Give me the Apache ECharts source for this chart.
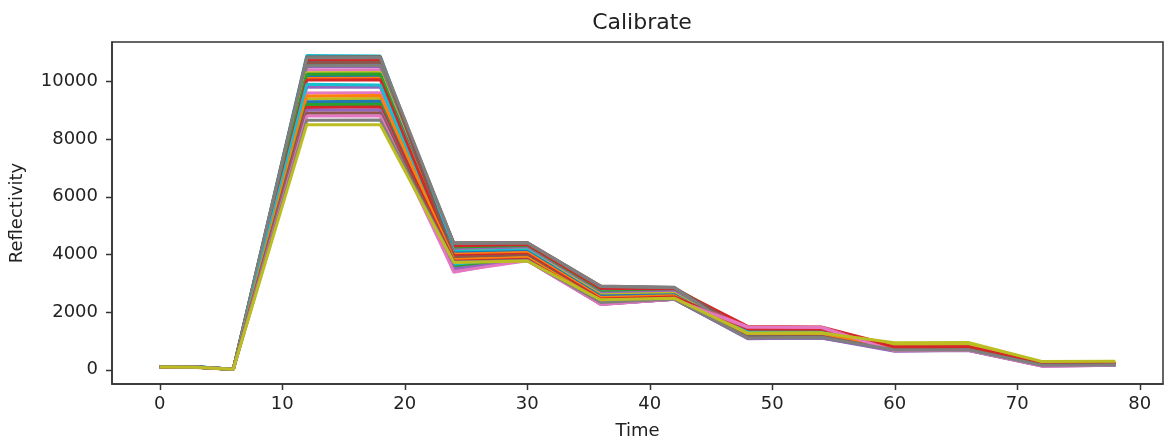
<!DOCTYPE html>
<html>
<head>
<meta charset="utf-8">
<script src="https://cdn.jsdelivr.net/npm/echarts@6/dist/echarts.min.js"></script>
<style>
  html, body { margin: 0; padding: 0; background: #fff; }
  #chart { width: 1164px; height: 448px; }
</style>
</head>
<body>
<div id="chart"></div>
<script>
// sample times (x axis)
const times = [0, 3, 6, 12, 18, 24, 30, 36, 42, 48, 54, 60, 66, 72, 78]

// one row per calibration curve
const reflectivity = [
  [100, 90, 10, 10700, 10720, 4250, 4300, 2800, 2780, 1400, 1380, 800, 810, 220, 230],
  [90, 80, 5, 10800, 10810, 4350, 4380, 2850, 2820, 1450, 1430, 780, 790, 200, 210],
  [110, 95, 15, 10600, 10620, 4200, 4250, 2700, 2720, 1300, 1320, 760, 770, 190, 200],
  [95, 85, 8, 10750, 10760, 4300, 4340, 2820, 2800, 1500, 1480, 820, 830, 210, 220],
  [105, 80, 12, 10500, 10520, 4150, 4200, 2650, 2700, 1250, 1270, 720, 730, 180, 190],
  [100, 90, 6, 10650, 10670, 4400, 4410, 2900, 2850, 1350, 1360, 750, 760, 170, 180],
  [85, 70, 20, 10400, 10410, 3450, 3900, 2300, 2500, 1480, 1470, 680, 700, 150, 160],
  [100, 90, 10, 10550, 10560, 4380, 4400, 2880, 2840, 1150, 1170, 700, 710, 160, 170],
  [90, 75, 15, 10300, 10310, 4100, 4150, 2600, 2650, 1200, 1220, 850, 860, 240, 250],
  [100, 95, 5, 10900, 10880, 4100, 4150, 2500, 2550, 1300, 1300, 780, 790, 200, 210],
  [95, 85, 10, 10200, 10210, 4050, 4100, 2550, 2600, 1180, 1200, 740, 750, 190, 200],
  [105, 90, 12, 10100, 10110, 4000, 4060, 2500, 2560, 1250, 1260, 720, 730, 180, 190],
  [100, 80, 8, 10250, 10260, 3600, 3850, 2350, 2450, 1100, 1120, 670, 690, 150, 160],
  [90, 85, 10, 10050, 10060, 3950, 4000, 2450, 2520, 1420, 1410, 800, 810, 220, 230],
  [110, 90, 15, 9800, 9810, 3500, 3800, 2280, 2440, 1100, 1130, 650, 670, 140, 150],
  [100, 90, 10, 10850, 10860, 3900, 3960, 2400, 2480, 1150, 1160, 700, 710, 170, 180],
  [95, 80, 5, 9600, 9610, 3380, 3850, 2260, 2440, 1460, 1450, 660, 680, 130, 150],
  [100, 85, 12, 10820, 10830, 4390, 4400, 2890, 2860, 1080, 1100, 690, 700, 160, 170],
  [90, 80, 8, 9400, 9410, 3800, 3880, 2380, 2460, 1260, 1270, 880, 890, 260, 270],
  [105, 95, 10, 9900, 9880, 3600, 3820, 2300, 2460, 1120, 1140, 670, 690, 150, 160],
  [100, 90, 10, 9300, 9310, 3780, 3850, 2350, 2450, 1160, 1170, 710, 720, 170, 180],
  [95, 85, 12, 9500, 9510, 3820, 3880, 2380, 2470, 1240, 1250, 740, 750, 190, 200],
  [100, 80, 6, 9200, 9210, 3550, 3800, 2280, 2440, 1090, 1110, 660, 680, 140, 150],
  [90, 85, 10, 9100, 9110, 3760, 3830, 2340, 2450, 1440, 1430, 780, 790, 210, 220],
  [110, 95, 15, 9000, 9010, 3500, 3790, 2270, 2440, 1070, 1100, 640, 660, 120, 150],
  [100, 90, 10, 8900, 8910, 3740, 3800, 2320, 2450, 1130, 1150, 690, 700, 160, 170],
  [95, 80, 8, 8800, 8810, 3400, 3780, 2260, 2440, 1470, 1460, 650, 670, 120, 150],
  [100, 90, 12, 8650, 8660, 3730, 3790, 2330, 2450, 1100, 1120, 680, 690, 150, 160],
  [90, 80, 10, 8500, 8500, 3720, 3770, 2420, 2480, 1260, 1270, 930, 940, 280, 290]
]

const xTicks = [0, 10, 20, 30, 40, 50, 60, 70, 80]
const yTicks = [0, 2000, 4000, 6000, 8000, 10000]

// matplotlib tab10
const palette = ['#1f77b4', '#ff7f0e', '#2ca02c', '#d62728', '#9467bd',
                 '#8c564b', '#e377c2', '#7f7f7f', '#bcbd22', '#17becf']

const font = 'DejaVu Sans'
const ink = '#222'
const spine = { color: '#333', width: 1.5 }
const TICK = 6

const series = reflectivity.map((row) => ({
  type: 'line',
  data: row.map((v, i) => [times[i], v]),
  showSymbol: false,
  lineStyle: { width: 3 },
  emphasis: { disabled: true }
}))

var chart = echarts.init(document.getElementById('chart'))
chart.setOption({
  animation: false,
  color: palette,
  title: {
    text: 'Calibrate',
    left: 637,
    top: 7,
    textAlign: 'center',
    textStyle: { fontFamily: font, fontSize: 22, fontWeight: 'normal', color: ink }
  },
  grid: {
    left: 112, right: 1, top: 42, bottom: 64,
    show: true, borderColor: '#333', borderWidth: 1.5, containLabel: false
  },
  xAxis: {
    type: 'value',
    min: -3.9,
    max: 81.9,
    name: 'Time',
    nameLocation: 'middle',
    nameGap: 38,
    nameTextStyle: { fontFamily: font, fontSize: 18, color: ink },
    axisLine: { show: true, onZero: false, lineStyle: spine },
    splitLine: { show: false },
    axisTick: { show: false },
    axisLabel: { customValues: xTicks, margin: 11, fontFamily: font, fontSize: 18, color: ink,
                 formatter: (v) => String(v) }
  },
  yAxis: {
    type: 'value',
    min: -500,
    max: 11370,
    name: 'Reflectivity',
    nameLocation: 'middle',
    nameGap: 86,
    nameTextStyle: { fontFamily: font, fontSize: 18, color: ink },
    axisLine: { show: true, onZero: false, lineStyle: spine },
    splitLine: { show: false },
    axisTick: { show: false },
    axisLabel: { customValues: yTicks, margin: 14, fontFamily: font, fontSize: 18, color: ink,
                 formatter: (v) => String(v) }
  },
  series: series
})

// outward tick marks, placed through the chart's own scales
const x0 = chart.convertToPixel({ gridIndex: 0 }, [-3.9, -500])
const tickMarks = []
xTicks.forEach((t) => {
  const px = Math.round(chart.convertToPixel({ xAxisIndex: 0 }, t)) + 0.5
  tickMarks.push({ type: 'line', shape: { x1: px, y1: x0[1], x2: px, y2: x0[1] + TICK },
                   style: { stroke: '#333', lineWidth: 1.5 }, silent: true })
})
yTicks.forEach((t) => {
  const py = Math.round(chart.convertToPixel({ yAxisIndex: 0 }, t)) + 0.5
  tickMarks.push({ type: 'line', shape: { x1: x0[0] - TICK, y1: py, x2: x0[0], y2: py },
                   style: { stroke: '#333', lineWidth: 1.5 }, silent: true })
})
chart.setOption({ graphic: tickMarks })
</script>
</body>
</html>
